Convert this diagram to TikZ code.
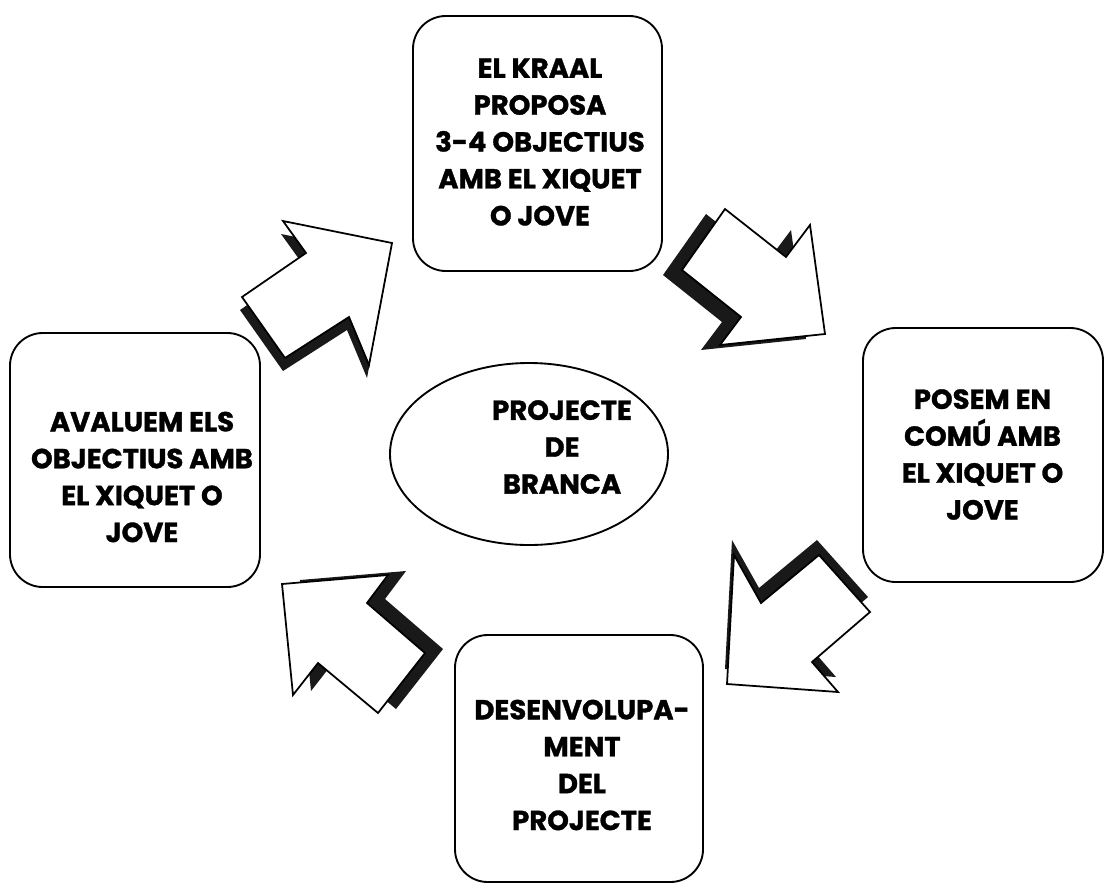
\documentclass[tikz,border=0pt]{standalone}
\usepackage{fontspec}
\setmainfont{Poppins}[BoldFeatures={FakeBold=1.2}]
\usepackage{tikz}
\usetikzlibrary{shapes.geometric,positioning}

\tikzset{
	kasten/.style={draw, line width=1.6pt, rounded corners=28pt, inner sep=0pt},
	schrift/.style={align=center, font=\fontsize{23.5}{31.5}\selectfont\bfseries},
	pfeil/.style={draw, line width=1.5pt, fill=white},
	schatten/.style={fill=black!90},
}

\begin{document}
\begin{tikzpicture}[x=0.03cm, y=-0.03cm]
	\useasboundingbox (0,0) rectangle (1105,889); % Rand wie Vorlage
	
	% Kaesten
	\node[kasten, minimum width=7.47cm, minimum height=7.65cm] (kraal) at (537.5,143.5) {};
	\node[kasten, minimum width=7.5cm, minimum height=7.62cm] (avaluem) at (135,460) {};
	\node[kasten, minimum width=7.2cm, minimum height=7.62cm] (posem) at (983,455) {};
	\node[kasten, minimum width=7.44cm, minimum height=7.41cm] (desenv) at (579,758.5) {};
	\node[draw, ellipse, line width=1.6pt, inner sep=0pt, minimum width=8.34cm, minimum height=5.46cm] (projecte) at (529,454) {};
	
	% Texte
	\node[schrift] (kraal-t) at (540,142) {EL KRAAL\\PROPOSA\\3-4 OBJECTIUS\\AMB EL XIQUET\\O JOVE};
	\node[schrift] (avaluem-t) at (142,477) {AVALUEM ELS\\OBJECTIUS AMB\\EL XIQUET O\\JOVE};
	\node[schrift] (posem-t) at (982.5,454.5) {POSEM EN\\COMÚ AMB\\EL XIQUET O\\JOVE};
	\node[schrift] (desenv-t) at (582,765) {DESENVOLUPA-\\MENT\\DEL\\PROJECTE};
	\node[schrift] (projecte-t) at (562,447) {PROJECTE\\DE\\BRANCA};
	
	% Pfeile mit Schatten
	\begin{scope}[shift={(-2,13)}]
		\fill[schatten] (283,221) -- (392,243) -- (369,365) -- (349,317) -- (285,358) -- (242,297) -- (306,253) -- cycle;
	\end{scope}
	\draw[pfeil] (283,221) -- (392,243) -- (369,365) -- (349,317) -- (285,358) -- (242,297) -- (306,253) -- cycle;
	
	\begin{scope}[shift={(-19,5)}]
		\fill[schatten] (725,209) -- (786,257) -- (810,225) -- (825,334) -- (720,345) -- (741,317) -- (682,270) -- cycle;
	\end{scope}
	\draw[pfeil] (725,209) -- (786,257) -- (810,225) -- (825,334) -- (720,345) -- (741,317) -- (682,270) -- cycle;
	
	\begin{scope}[shift={(-2,-15)}]
		\fill[schatten] (734,555) -- (761,603) -- (819,555) -- (870,612) -- (812,662) -- (838,692) -- (727,684) -- cycle;
	\end{scope}
	\draw[pfeil] (734,555) -- (761,603) -- (819,555) -- (870,612) -- (812,662) -- (838,692) -- (727,684) -- cycle;
	
	\begin{scope}[shift={(18,-4)}]
		\fill[schatten] (282,584) -- (388,575) -- (367,603) -- (425,653) -- (378,713) -- (318,663) -- (293,695) -- cycle;
	\end{scope}
	\draw[pfeil] (282,584) -- (388,575) -- (367,603) -- (425,653) -- (378,713) -- (318,663) -- (293,695) -- cycle;
\end{tikzpicture}
\end{document}
